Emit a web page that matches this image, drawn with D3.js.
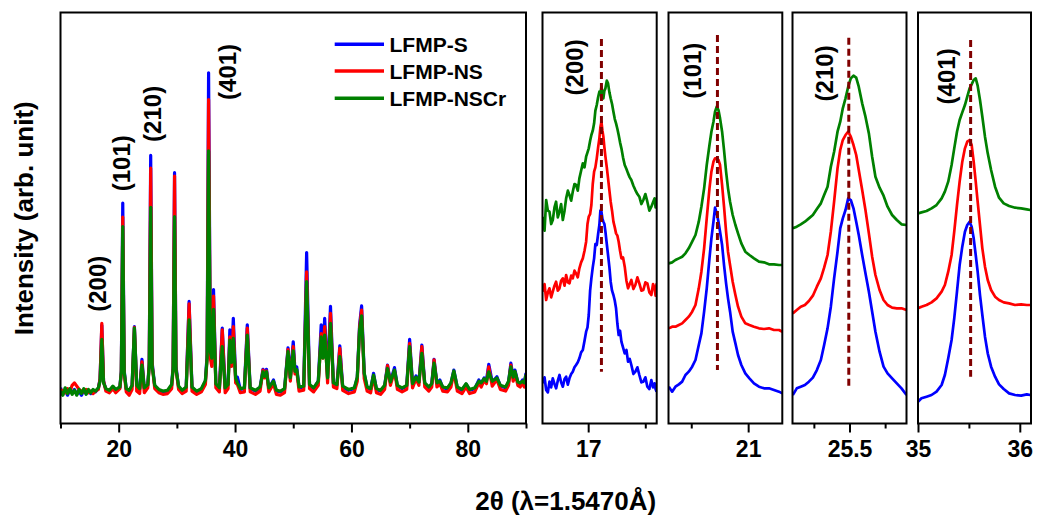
<!DOCTYPE html>
<html><head><meta charset="utf-8">
<script src="https://cdn.jsdelivr.net/npm/d3@7"></script>
<style>
body{margin:0;background:#fff}
svg{display:block}
text{font-family:"Liberation Sans",Arial,sans-serif;font-weight:bold;fill:#000}
</style>
</head><body>
<svg id="c" width="1039" height="516"></svg>
<script>
// ---------- DATA ----------
const seriesNames = ["LFMP-S", "LFMP-NS", "LFMP-NSCr"];
const peakLabels = ["(200)", "(101)", "(210)", "(401)"];

// main pattern (2θ, intensity arb. units)
const mainTheta = [
  10.0,10.4,10.8,11.2,11.6,12.0,12.4,12.8,13.2,13.6,
  14.0,14.4,14.8,15.2,15.6,16.0,16.5,16.8,17.1,17.4,
  17.8,18.4,19.0,19.5,20.2,20.45,20.7,20.95,21.3,21.8,
  22.3,22.7,23.1,23.6,24.0,24.4,25.0,25.25,25.5,25.75,
  26.2,26.9,27.6,28.4,29.1,29.35,29.6,29.85,30.3,30.9,
  31.6,32.1,32.6,33.4,34.2,34.9,35.2,35.45,35.75,36.0,
  36.3,36.7,37.3,37.8,38.3,38.8,39.1,39.4,39.7,40.1,
  40.4,40.9,41.6,42.1,42.6,43.5,44.3,44.8,45.1,45.4,
  45.8,46.6,47.1,47.8,48.5,49.1,49.5,50.0,50.3,50.6,
  51.0,51.8,52.3,52.8,53.5,54.3,54.8,55.1,55.4,55.9,
  56.4,56.9,57.5,58.0,58.5,59.5,60.5,61.0,61.4,61.75,
  62.2,62.7,63.3,63.8,64.3,65.0,65.7,66.2,66.7,67.4,
  67.9,68.7,69.5,70.0,70.5,71.1,71.6,72.1,72.6,73.3,
  73.8,74.2,74.7,75.2,75.7,76.5,77.1,77.6,78.2,79.0,
  79.7,80.3,81.2,81.9,82.3,82.8,83.2,83.6,84.2,85.0,
  85.6,86.5,87.0,87.4,87.8,88.1,88.6,89.0,89.4,89.7,
  90.0];
const mainS = [
  88,72,84,70,82,76,84,72,80,70,
  82,74,80,74,82,78,86,110,240,104,
  84,80,90,80,88,130,537,130,84,80,
  92,237,92,84,157,86,94,150,653,150,
  92,82,76,80,94,140,611,140,90,80,
  88,298,88,78,84,104,170,854,170,150,
  327,96,86,233,86,96,229,150,257,112,
  114,84,86,241,86,80,88,133,118,133,
  86,107,80,78,84,185,112,200,130,139,
  88,90,417,94,86,104,241,170,257,112,
  286,98,94,190,90,82,86,112,241,287,
  122,88,84,123,84,80,92,143,102,137,
  92,86,92,206,98,117,102,192,98,88,
  98,157,98,107,88,86,98,131,88,82,
  97,82,86,107,98,112,106,145,102,115,
  92,88,102,148,112,131,102,98,107,98,
  124];
const mainNS = [
  84,80,76,86,78,94,100,92,84,80,
  78,84,76,80,74,80,84,110,245,104,
  80,76,86,76,86,124,503,124,78,70,
  84,235,80,74,151,76,88,144,622,144,
  86,76,72,74,86,134,603,134,84,74,
  80,292,80,72,78,96,160,789,160,140,
  311,88,78,229,76,86,212,140,237,100,
  96,76,78,233,78,72,80,131,112,129,
  78,98,72,70,76,181,104,188,122,128,
  80,82,370,86,78,94,220,160,237,100,
  269,90,86,184,82,74,78,104,235,277,
  110,80,76,116,76,72,84,142,94,130,
  84,78,84,196,88,110,94,188,90,80,
  90,156,90,98,80,78,90,126,80,74,
  90,74,78,100,90,106,98,139,92,108,
  84,80,94,143,104,126,94,90,100,90,
  118];
const mainNSCr = [
  80,70,88,74,86,72,82,70,84,74,
  86,72,84,76,84,80,88,104,206,100,
  86,82,92,84,90,126,480,126,86,82,
  94,233,94,86,143,88,96,140,527,140,
  94,84,80,82,96,132,504,132,92,82,
  90,253,90,80,86,106,160,664,176,160,
  279,98,88,188,88,96,204,150,208,112,
  100,86,88,216,88,82,90,127,116,127,
  88,104,82,80,86,176,112,178,128,132,
  90,92,346,96,88,104,212,160,216,112,
  245,100,96,164,92,84,88,114,229,263,
  124,90,86,119,86,82,94,135,102,131,
  94,88,94,188,98,114,102,172,100,90,
  98,148,100,104,90,88,100,129,90,84,
  98,84,88,104,100,110,104,127,104,112,
  94,90,104,139,114,128,102,100,104,100,
  120];
const mainMajorTicks = [20, 40, 60, 80];
const mainMinorTicks = [10, 30, 50, 70, 90];
const mainLabelTheta = [17.8, 21.9, 27.3, 40.15];
const mainLabelI = [341, 634, 754, 856];

// zoomed panels (stacked, arb. units)
const p1Theta = [16.603,16.618,16.632,16.647,16.661,16.676,16.690,16.705,16.719,16.734,
  16.749,16.763,16.778,16.793,16.807,16.822,16.836,16.851,16.865,16.880,
  16.894,16.909,16.923,16.938,16.953,16.968,16.982,16.994,17.005,17.017,
  17.028,17.040,17.052,17.063,17.075,17.087,17.098,17.107,17.116,17.125,
  17.133,17.142,17.151,17.163,17.174,17.186,17.197,17.209,17.221,17.233,
  17.244,17.256,17.267,17.279,17.291,17.305,17.320,17.335,17.349,17.364,
  17.378,17.396,17.413,17.431,17.448,17.466,17.483,17.501,17.518,17.536,
  17.553,17.568,17.582,17.590,17.599];
const p1S = [122,140,102,95,127,110,137,120,107,130,
  147,125,112,135,142,118,137,150,157,170,
  177,185,197,215,222,250,277,290,327,400,
  437,470,497,540,537,570,597,640,637,615,
  607,600,577,540,507,470,427,400,387,370,
  347,300,267,280,247,230,212,222,187,195,
  177,150,157,170,147,125,127,140,112,105,
  132,110,122,105,97];
const p1NS = [397,420,372,395,407,380,397,415,427,400,
  407,430,437,415,447,425,422,445,437,460,
  452,440,467,485,497,520,547,600,622,630,
  657,720,757,770,797,830,857,890,907,880,
  862,830,802,770,737,700,667,640,607,590,
  572,565,547,520,497,500,472,430,407,420,
  432,405,417,440,422,400,402,425,422,395,
  387,420,407,385,422];
const p1NSCr = [622,580,672,640,637,600,612,650,667,620,
  637,660,612,640,677,700,687,670,697,720,
  717,700,737,760,782,770,802,815,827,850,
  867,880,902,940,957,980,997,990,1012,990,
  977,1000,1007,1030,1022,995,977,960,937,915,
  902,885,867,845,827,800,777,765,752,740,
  732,715,702,690,682,660,672,690,667,640,
  652,665,677,650,677];

const p2Theta = [20.303,20.332,20.361,20.391,20.420,20.449,20.478,20.508,20.537,20.566,
  20.589,20.613,20.636,20.660,20.677,20.695,20.709,20.724,20.739,20.753,
  20.771,20.788,20.806,20.823,20.841,20.864,20.888,20.911,20.940,20.975,
  21.011,21.051,21.095,21.139,21.183,21.227,21.271,21.300];
const p2S = [112,97,112,119,127,147,157,172,192,237, 272,337,407,497,557,607,649,632,607,577,
  537,477,422,377,337,277,242,207,177,152, 137,122,112,107,107,102,97,92];
const p2NS = [287,292,292,297,302,312,322,337,357,407, 457,527,617,707,757,787,797,797,792,777,
  717,652,577,517,477,427,387,352,322,302, 297,292,287,285,287,282,282,277];
const p2NSCr = [482,485,492,497,502,512,527,547,567,607, 652,707,777,837,877,907,937,952,942,917,
  877,822,757,707,667,627,597,572,542,517, 507,497,487,485,479,479,477,477];

const p3Theta = [25.102,25.130,25.158,25.187,25.215,25.243,25.271,25.299,25.322,25.346,
  25.369,25.392,25.416,25.435,25.453,25.472,25.491,25.509,25.528,25.547,
  25.565,25.589,25.612,25.636,25.659,25.682,25.711,25.739,25.767,25.799,
  25.832,25.865,25.900];
const p3S = [87,107,112,117,127,139,162,192,237,287, 352,437,517,587,617,642,677,672,647,607,
  567,507,452,397,337,277,217,172,152,137, 122,107,87];
const p3NS = [332,342,352,357,369,385,412,437,469,507, 577,667,767,822,852,867,877,862,837,807,
  762,702,642,572,502,447,402,372,357,349, 347,347,342];
const p3NSCr = [587,592,599,607,617,627,645,662,687,712, 772,817,877,907,947,977,1012,1037,1045,1039,
  1012,962,922,872,802,742,709,685,652,627, 612,599,597];

const p4Theta = [35.000,35.034,35.084,35.133,35.182,35.232,35.264,35.297,35.330,35.356,
  35.383,35.409,35.435,35.461,35.484,35.507,35.527,35.547,35.567,35.586,
  35.609,35.632,35.658,35.685,35.718,35.757,35.796,35.842,35.895,35.954,
  36.013,36.069,36.102];
const p4S = [67,77,82,87,97,117,147,197,252,317, 397,477,532,577,597,607,592,557,507,457,
  387,327,262,212,172,142,119,105,92,87, 85,89,87];
const p4NS = [347,352,357,365,377,397,417,457,507,577, 657,727,787,827,847,852,837,787,727,667,
  597,527,472,432,402,382,372,365,362,357, 359,357,357];
const p4NSCr = [632,635,639,647,657,677,697,727,777,827, 877,912,935,957,982,1007,1019,1032,1037,1015,
  972,922,862,812,762,712,679,662,654,649, 647,644,642];

const panelDomains = [[16.6, 17.6], [20.3, 21.3], [25.1, 25.9], [35, 36.11]];
const panelMajorTicks = [[17], [21], [25.5], [35, 36]];
const panelMinorTicks = [[17.5], [20.5], [25.25, 25.75], [35.5]];
const panelTickLabels = [["17"], ["21"], ["25.5"], ["35", "36"]];
const refTheta = [17.116, 20.73, 25.495, 35.517];
const refTop = [1155, 1167, 1159, 1152];
const refBottom = [157, 162, 112, 142];
const panelLabelTheta = [16.955, 20.586, 25.384, 35.368];
const panelLabelI = [1070, 1060, 1052, 1043];

// ---------- LAYOUT / STYLE ----------
const colors = ["#0000ff", "#ff0000", "#008000"];
const TOP = 12.5, BOT = 423.5;
const svg = d3.select("#c");
const defs = svg.append("defs");

function frame(x0, x1) {
  svg.append("rect").attr("x", x0).attr("y", TOP).attr("width", x1 - x0).attr("height", BOT - TOP)
    .attr("fill", "none").attr("stroke", "#000").attr("stroke-width", 2);
}
function axes(xs, major, minor, labels) {
  const g1 = svg.append("g").attr("transform", `translate(0,${BOT})`)
    .call(d3.axisBottom(xs).tickValues(major).tickSize(9).tickPadding(8)
      .tickFormat((d, i) => labels[i]));
  const g2 = svg.append("g").attr("transform", `translate(0,${BOT})`)
    .call(d3.axisBottom(xs).tickValues(minor).tickSize(5).tickFormat(""));
  [g1, g2].forEach(g => {
    g.select(".domain").remove();
    g.selectAll(".tick line").attr("stroke", "#000").attr("stroke-width", 2);
    g.selectAll(".tick text").style("font-size", "23px").style("font-family", "'Liberation Sans',Arial,sans-serif").style("font-weight", "bold").attr("fill", "#000");
  });
}
function clip(id, x0, x1) {
  defs.append("clipPath").attr("id", id).append("rect")
    .attr("x", x0).attr("y", TOP).attr("width", x1 - x0).attr("height", BOT - TOP);
}
function rotLabel(x, y, txt, size) {
  svg.append("text").attr("transform", `translate(${x},${y}) rotate(-90)`)
    .attr("text-anchor", "middle").style("font-size", size + "px").text(txt);
}

// ---------- MAIN PANEL ----------
const mx = d3.scaleLinear().domain([10, 90]).range([60.5, 526]);
const my = d3.scaleLinear().domain([0, 1000]).range([424, 12.7]);
clip("cm", 60.5, 526);
const mainSeries = [mainS, mainNS, mainNSCr];
const mline = d3.line().x(d => mx(d[0])).y(d => my(d[1]));
const gm = svg.append("g").attr("clip-path", "url(#cm)");
mainSeries.forEach((vals, k) => {
  gm.append("path").datum(mainTheta.map((t, i) => [t, vals[i]]))
    .attr("d", mline).attr("fill", "none").attr("stroke", colors[k])
    .attr("stroke-width", 3.2).attr("stroke-linejoin", "round");
});
frame(60.5, 526);
axes(mx, mainMajorTicks, mainMinorTicks, mainMajorTicks.map(String));
peakLabels.forEach((lab, i) => rotLabel(mx(mainLabelTheta[i]), my(mainLabelI[i]), lab, 24));

// legend
const legY = [44.3, 71, 98.3];
seriesNames.forEach((n, i) => {
  svg.append("line").attr("x1", 334.7).attr("x2", 384).attr("y1", legY[i]).attr("y2", legY[i])
    .attr("stroke", colors[i]).attr("stroke-width", 3.5);
  svg.append("text").attr("x", 389.5).attr("y", legY[i] + 7.6).style("font-size", "21px").text(n);
});

// ---------- ZOOM PANELS ----------
const panelRanges = [[542.5, 656.7], [668.5, 782.3], [792.5, 906.5], [918, 1031]];
const panelTheta = [p1Theta, p2Theta, p3Theta, p4Theta];
const panelSeries = [[p1S, p1NS, p1NSCr], [p2S, p2NS, p2NSCr], [p3S, p3NS, p3NSCr], [p4S, p4NS, p4NSCr]];
const py = d3.scaleLinear().domain([0, 1234]).range([424, 12.7]);
panelRanges.forEach((r, p) => {
  const xs = d3.scaleLinear().domain(panelDomains[p]).range(r);
  clip("cp" + p, r[0], r[1]);
  const g = svg.append("g").attr("clip-path", `url(#cp${p})`);
  const ln = d3.line().x(d => xs(d[0])).y(d => py(d[1]));
  panelSeries[p].forEach((vals, k) => {
    g.append("path").datum(panelTheta[p].map((t, i) => [t, vals[i]]))
      .attr("d", ln).attr("fill", "none").attr("stroke", colors[k])
      .attr("stroke-width", 2.7).attr("stroke-linejoin", "round");
  });
  g.append("line").attr("x1", xs(refTheta[p])).attr("x2", xs(refTheta[p]))
    .attr("y1", py(refTop[p])).attr("y2", py(refBottom[p]))
    .attr("stroke", "#800000").attr("stroke-width", 3).attr("stroke-dasharray", "7,4");
  frame(r[0], r[1]);
  axes(xs, panelMajorTicks[p], panelMinorTicks[p], panelTickLabels[p]);
  rotLabel(xs(panelLabelTheta[p]), py(panelLabelI[p]), peakLabels[p], 24);
});

// ---------- AXIS TITLES ----------
svg.append("text").attr("x", 565.7).attr("y", 510).attr("text-anchor", "middle")
  .style("font-size", "26px").text("2θ (λ=1.5470Å)");
rotLabel(33, 218.3, "Intensity (arb. unit)", 26);
</script>
</body></html>
